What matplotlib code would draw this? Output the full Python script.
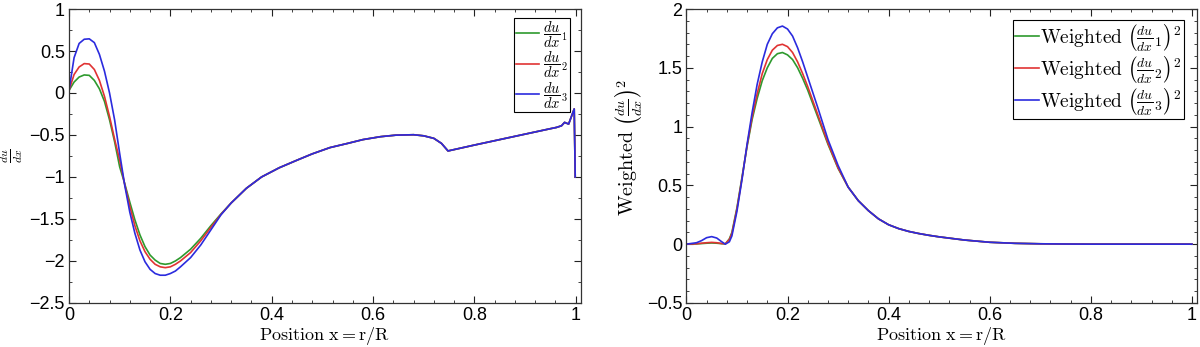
import matplotlib
matplotlib.use("Agg")
import matplotlib.pyplot as plt
from matplotlib.ticker import MultipleLocator

plt.rcParams["font.family"] = ["Liberation Sans", "DejaVu Sans"]
plt.rcParams["mathtext.fontset"] = "cm"

# left panel: du/dx for three cases
x_left = [0, 0.01, 0.02, 0.03, 0.04, 0.05, 0.06, 0.07, 0.08, 0.09, 0.10,
          0.11, 0.12, 0.13, 0.14, 0.15, 0.16, 0.17, 0.18, 0.19, 0.20, 0.21,
          0.22, 0.24, 0.26, 0.28, 0.30,
          0.32, 0.35, 0.38, 0.415, 0.45, 0.48, 0.515, 0.55, 0.58, 0.615,
          0.645, 0.68, 0.70, 0.72, 0.735, 0.748, 0.80, 0.85, 0.90, 0.95,
          0.962, 0.972, 0.978, 0.986, 0.997, 0.999]
tail_left = [-1.31, -1.135, -1.00, -0.89, -0.80, -0.725, -0.65, -0.60, -0.555,
             -0.52, -0.502, -0.497, -0.51, -0.54, -0.60, -0.69, -0.62, -0.555,
             -0.49, -0.425, -0.41, -0.39, -0.35, -0.37, -0.19, -1.0]
dudx_1 = [0.03, 0.13, 0.19, 0.215, 0.21, 0.15, 0.05, -0.10, -0.32, -0.58, -0.88,
          -1.08, -1.30, -1.51, -1.69, -1.83, -1.93, -1.99, -2.03, -2.04, -2.03,
          -2.00, -1.96, -1.86, -1.73, -1.58, -1.44] + tail_left
dudx_2 = [0.03, 0.22, 0.31, 0.35, 0.345, 0.28, 0.15, -0.04, -0.28, -0.55, -0.80,
          -1.09, -1.35, -1.58, -1.76, -1.89, -1.98, -2.04, -2.07, -2.08, -2.07,
          -2.04, -2.00, -1.90, -1.76, -1.60, -1.445] + tail_left
dudx_3 = [0.03, 0.42, 0.59, 0.64, 0.645, 0.60, 0.46, 0.26, 0.0, -0.32, -0.72,
          -1.10, -1.42, -1.67, -1.87, -2.01, -2.10, -2.15, -2.17, -2.17, -2.15,
          -2.12, -2.07, -1.96, -1.81, -1.63, -1.45] + tail_left

# right panel: weighted (du/dx)^2
x_right = [0, 0.02, 0.03, 0.04, 0.05, 0.06, 0.07, 0.077, 0.085, 0.09, 0.10,
           0.11, 0.12, 0.13, 0.14, 0.15, 0.16, 0.17, 0.18, 0.19, 0.20, 0.21,
           0.22, 0.23, 0.24, 0.26, 0.28, 0.30,
           0.32, 0.34, 0.36, 0.38, 0.40, 0.42, 0.44, 0.46, 0.48, 0.50, 0.55,
           0.60, 0.65, 0.70, 0.75, 0.80, 0.90, 1.0]
tail_right = [0.485, 0.37, 0.285, 0.215, 0.165, 0.132, 0.108, 0.090, 0.075,
              0.062, 0.035, 0.016, 0.007, 0.003, 0.001, 0.0, 0.0, 0.0]
wsq_1 = [0, 0.002, 0.005, 0.008, 0.010, 0.008, 0.004, 0.002, 0.045, 0.10, 0.31,
         0.57, 0.83, 1.06, 1.24, 1.39, 1.50, 1.58, 1.62, 1.63, 1.61, 1.57,
         1.50, 1.41, 1.31, 1.08, 0.85, 0.645] + tail_right
wsq_2 = [0, 0.003, 0.008, 0.012, 0.015, 0.012, 0.005, 0.003, 0.04, 0.09, 0.30,
         0.56, 0.84, 1.08, 1.28, 1.45, 1.57, 1.65, 1.69, 1.70, 1.68, 1.63,
         1.55, 1.45, 1.34, 1.10, 0.86, 0.65] + tail_right
wsq_3 = [0, 0.012, 0.03, 0.055, 0.064, 0.052, 0.02, 0.0, 0.02, 0.07, 0.28,
         0.55, 0.85, 1.12, 1.36, 1.55, 1.70, 1.79, 1.84, 1.855, 1.83, 1.77,
         1.67, 1.55, 1.42, 1.16, 0.89, 0.67] + tail_right

colors = ["#2e9a2e", "#e03333", "#2b2bde"]

fig = plt.figure(figsize=(12, 3.47), dpi=100)
ax1 = fig.add_axes([0.0575, 0.127, 0.4265, 0.847])
ax2 = fig.add_axes([0.572, 0.127, 0.4255, 0.847])

for y, c, n in zip([dudx_1, dudx_2, dudx_3], colors, [1, 2, 3]):
    ax1.plot(x_left, y, color=c, lw=1.2, label=r"$\dfrac{du}{dx}_{%d}$" % n)
for y, c, n in zip([wsq_1, wsq_2, wsq_3], colors, [1, 2, 3]):
    ax2.plot(x_right, y, color=c, lw=1.2,
             label=r"$\mathrm{Weighted}\ \left(\frac{du}{dx}_{%d}\right)^2$" % n)

ax1.set_ylim(-2.5, 1)
ax1.set_yticks([-2.5, -2, -1.5, -1, -0.5, 0, 0.5, 1])
ax1.set_yticklabels(["\u22122.5", "\u22122", "\u22121.5", "\u22121", "\u22120.5", "0", "0.5", "1"])
ax1.yaxis.set_minor_locator(MultipleLocator(0.25))
ax1.set_ylabel(r"$\frac{du}{dx}$", fontsize=12)
ax1.yaxis.set_label_coords(-0.086, 0.5)

ax2.set_ylim(-0.5, 2)
ax2.set_yticks([-0.5, 0, 0.5, 1, 1.5, 2])
ax2.set_yticklabels(["\u22120.5", "0", "0.5", "1", "1.5", "2"])
ax2.yaxis.set_minor_locator(MultipleLocator(0.1))
ax2.set_ylabel(r"$\mathrm{Weighted}\ \left(\frac{du}{dx}\right)^2$", fontsize=14.5)
ax2.yaxis.set_label_coords(-0.084, 0.53)

for ax in (ax1, ax2):
    ax.set_xlim(0, 1.01)
    ax.set_xticks([0, 0.2, 0.4, 0.6, 0.8, 1])
    ax.set_xticklabels(["0", "0.2", "0.4", "0.6", "0.8", "1"])
    ax.xaxis.set_minor_locator(MultipleLocator(0.04))
    ax.tick_params(which="both", direction="in", top=True, right=True,
                   labelsize=13, color="#222222")
    ax.tick_params(which="major", length=5, width=0.8, pad=3)
    ax.tick_params(which="minor", length=2.5, width=0.6)
    for s in ax.spines.values():
        s.set_linewidth(0.9)
        s.set_color("#333333")
    ax.set_xlabel(r"$\mathrm{Position\ x{=}r/R}$", fontsize=13, labelpad=1)

leg1 = ax1.legend(loc="upper right", bbox_to_anchor=(0.993, 0.995), fontsize=10.5,
                  handlelength=1.6, handletextpad=0.3, borderpad=0.1,
                  labelspacing=0.0, fancybox=False, framealpha=1)
leg1.get_frame().set_edgecolor("black")
leg1.get_frame().set_linewidth(0.8)
leg2 = ax2.legend(loc="upper right", bbox_to_anchor=(0.993, 0.995), fontsize=14,
                  handlelength=1.2, handletextpad=0.1, borderpad=0.1,
                  labelspacing=0.05, fancybox=False, framealpha=1)
leg2.get_frame().set_edgecolor("black")
leg2.get_frame().set_linewidth(0.8)

fig.savefig("out.png", dpi=100)
